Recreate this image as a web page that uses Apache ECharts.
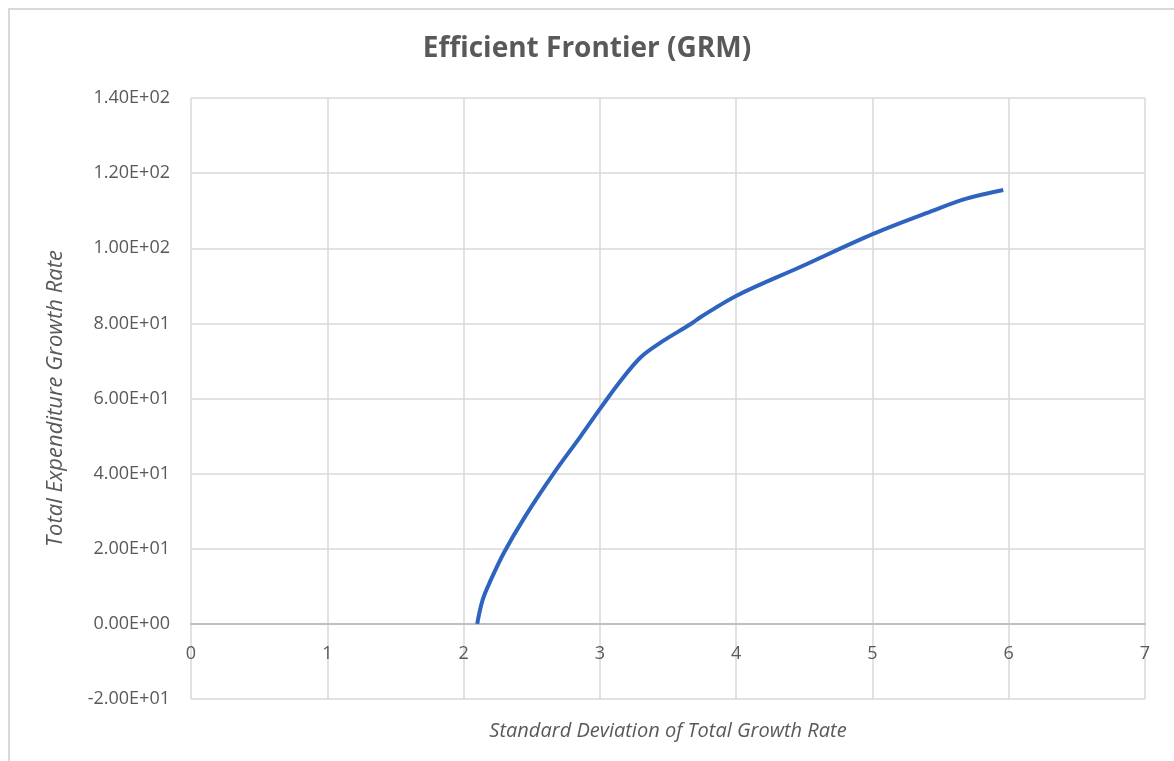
<!DOCTYPE html>
<html>
<head>
<meta charset="utf-8">
<script src="https://cdn.jsdelivr.net/npm/echarts@6/dist/echarts.min.js"></script>
<style>
html,body{margin:0;padding:0;background:#fff;}
#main{width:1174px;height:761px;}
</style>
</head>
<body>
<div id="main"></div>
<script>
var titleText = 'Efficient Frontier (GRM)';
var xAxisName = 'Standard Deviation of Total Growth Rate';
var yAxisName = 'Total Expenditure Growth Rate';
var stdDev = [2.10, 2.14, 2.20, 2.30, 2.45, 2.66, 2.86, 3.01, 3.15, 3.30, 3.45, 3.67, 3.74, 4.01, 4.47, 5.01, 5.45, 5.69, 5.96];
var growth = [0.0, 6.4, 11.7, 19.2, 28.5, 40.0, 50.0, 57.7, 64.6, 71.0, 75.0, 79.9, 81.7, 87.5, 95.0, 103.9, 110.1, 113.2, 115.5];

var pts = stdDev.map(function(x, i){ return [x, growth[i]]; });

function sci(v){
  if (v === 0) return '0.00E+00';
  var s = v < 0 ? '-' : '';
  var a = Math.abs(v);
  var e = Math.floor(Math.log10(a));
  var m = a / Math.pow(10, e);
  var es = (e < 0 ? '-' : '+') + (Math.abs(e) < 10 ? '0' : '') + Math.abs(e);
  return s + m.toFixed(2) + 'E' + es;
}

var font = '"Open Sans", "Liberation Sans", sans-serif';
var chart = echarts.init(document.getElementById('main'));
chart.setOption({
  animation: false,
  backgroundColor: '#fff',
  title: {
    text: titleText,
    left: 'center',
    top: 30,
    textStyle: {fontFamily: font, fontSize: 28, fontWeight: 'bold', color: '#595959'}
  },
  graphic: [{
    type: 'rect',
    shape: {x: 9, y: 9, width: 1180, height: 770},
    style: {fill: 'none', stroke: '#d9d9d9', lineWidth: 2},
    silent: true
  }],
  grid: {left: 191, right: 29, top: 98, bottom: 62, containLabel: false, outerBoundsMode: 'none'},
  xAxis: {
    type: 'value',
    min: 0, max: 7, interval: 1,
    name: xAxisName,
    nameLocation: 'middle',
    nameGap: 22,
    nameTextStyle: {fontFamily: font, fontSize: 20, fontStyle: 'italic', color: '#595959'},
    axisLine: {onZero: true, lineStyle: {color: '#bfbfbf', width: 2}},
    axisTick: {show: false},
    axisLabel: {fontFamily: font, fontSize: 18, color: '#595959', margin: -54},
    splitLine: {show: true, lineStyle: {color: '#d9d9d9', width: 1.5}}
  },
  yAxis: {
    type: 'value',
    min: -20, max: 140, interval: 20,
    name: yAxisName,
    nameLocation: 'middle',
    nameGap: 124,
    nameTextStyle: {fontFamily: font, fontSize: 22, fontStyle: 'italic', color: '#595959'},
    axisLine: {show: false},
    axisTick: {show: false},
    axisLabel: {fontFamily: font, fontSize: 18, color: '#595959', margin: 21, formatter: sci},
    splitLine: {show: true, lineStyle: {color: '#d9d9d9', width: 1.5}}
  },
  series: [{
    type: 'line',
    data: pts,
    smooth: 0.35,
    showSymbol: false,
    lineStyle: {color: '#2e63c0', width: 4}
  }]
});
</script>
</body>
</html>
